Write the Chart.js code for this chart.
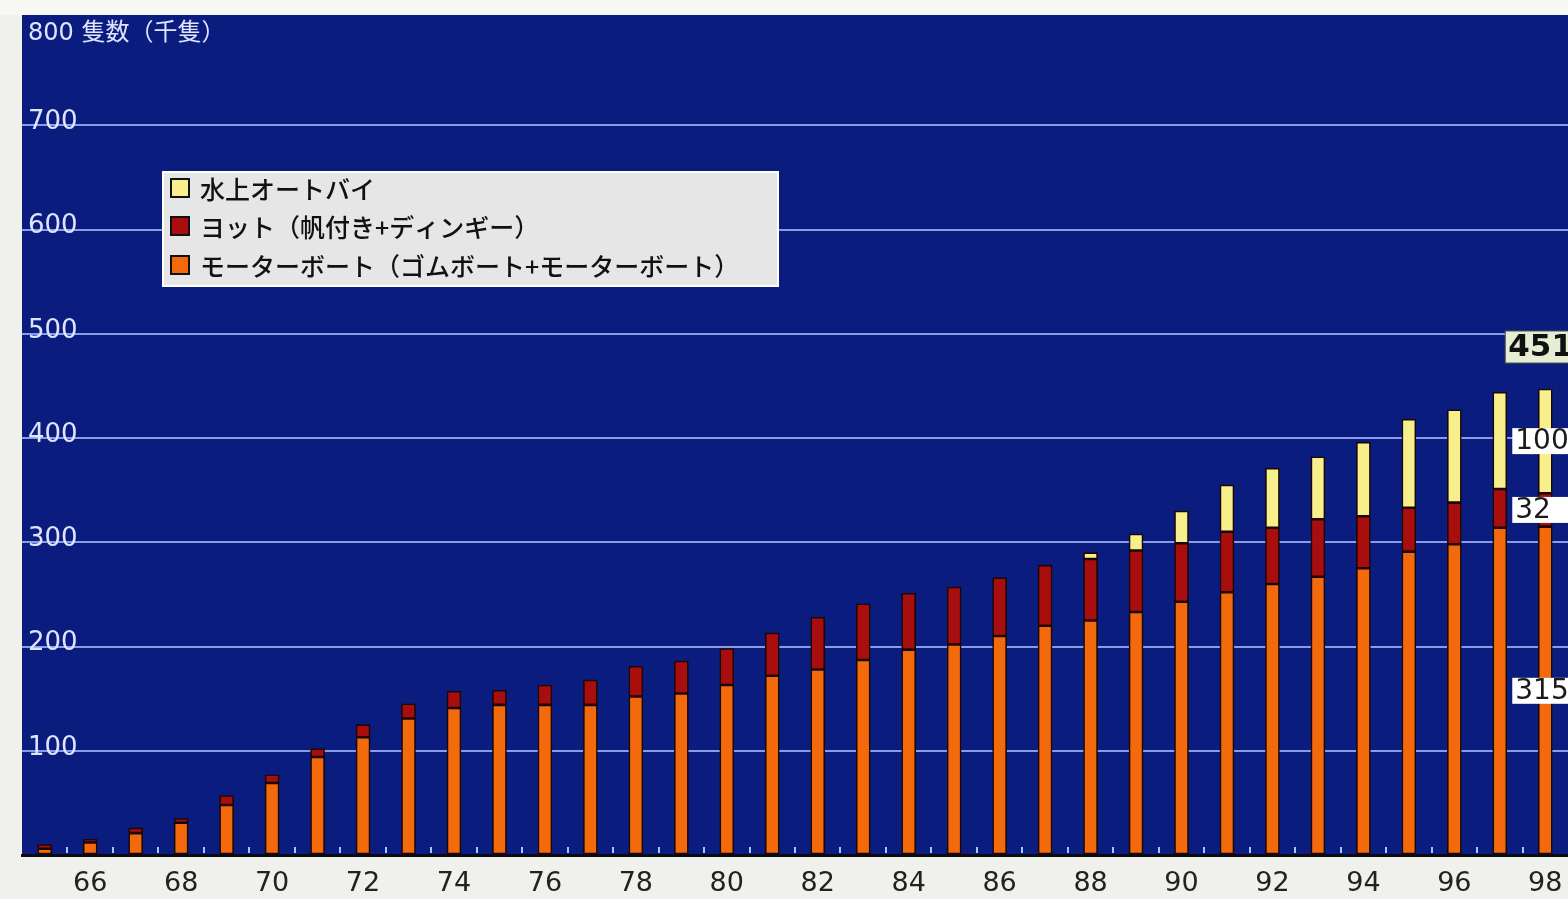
<!DOCTYPE html>
<html>
<head>
<meta charset="utf-8">
<script src="https://cdn.jsdelivr.net/npm/chart.js@4/dist/chart.umd.min.js"></script>
<style>
html,body{margin:0;padding:0;background:#f0f0ec;overflow:hidden;}
#wrap{width:1568px;height:899px;position:relative;}
canvas{display:block;}
</style>
</head>
<body>
<div id="wrap"><canvas id="c" width="1568" height="899"></canvas></div>
<script>
// ---- data (thousand boats) ----
const years = ['65','66','67','68','69','70','71','72','73','74','75','76','77','78','79','80','81','82','83','84','85','86','87','88','89','90','91','92','93','94','95','96','97','98'];
const motorboat = [6,12,21,31,48,69,94,113,131,141,144,144,144,152,155,163,172,178,187,197,202,210,220,225,233,243,252,260,267,275,291,298,314,315];
const yacht = [4,3,5,4,9,8,8,12,14,16,14,19,24,29,31,35,41,50,54,54,55,56,58,59,59,56,58,54,55,50,42,40,37,32];
const jetski = [null,null,null,null,null,null,null,null,null,null,null,null,null,null,null,null,null,null,null,null,null,null,null,6,16,31,45,57,60,71,85,89,93,100];
const seriesNames = ['水上オートバイ','ヨット（帆付き+ディンギー）','モーターボート（ゴムボート+モーターボート）'];
const yTicks = [100,200,300,400,500,600,700];
const yAxisTitle = '800 隻数（千隻）';
const lastYearLabels = ['315','32','100'];
const lastYearTotalLabel = '451';

const NAVY = '#0b1c7f';
const COLORS = { motor:'#f26a0c', yacht:'#a80e0e', jet:'#f6ef8c' };

const bgPlugin = {
  id:'bg',
  beforeDraw(chart){
    const {ctx, chartArea:a} = chart;
    ctx.save();
    ctx.fillStyle = '#f0f0ec';
    ctx.fillRect(0,0,chart.width,chart.height);
    ctx.fillStyle = '#f7f7f4';
    ctx.fillRect(0,0,chart.width,a.top-6);
    ctx.fillStyle = NAVY;
    ctx.fillRect(a.left, a.top-6, chart.width-a.left, a.bottom-a.top+6);
    ctx.restore();
  }
};

const overlayPlugin = {
  id:'overlay',
  afterDraw(chart){
    const {ctx, chartArea:a, scales} = chart;
    const xs = scales.x, ys = scales.y;
    ctx.save();
    // small inward ticks at category boundaries
    const cw = (a.right-a.left)/years.length;
    ctx.strokeStyle = '#b4bef2';
    ctx.lineWidth = 2;
    for(let i=1;i<years.length;i++){
      const x = Math.round(xs.getPixelForValue(i) - cw/2);
      ctx.beginPath(); ctx.moveTo(x, a.bottom-2); ctx.lineTo(x, a.bottom-8); ctx.stroke();
    }
    // axis title at top
    ctx.fillStyle = '#dfe4ff';
    ctx.font = '24px "DejaVu Sans", "Noto Sans CJK JP"';
    ctx.textBaseline = 'middle';
    ctx.textAlign = 'left';
    ctx.fillText(yAxisTitle, a.left+6, a.top+13);

    // legend
    const lx = 163, ly = 172, lw = 615, lh = 114;
    ctx.fillStyle = '#e6e6e6';
    ctx.fillRect(lx, ly, lw, lh);
    ctx.strokeStyle = '#ffffff';
    ctx.lineWidth = 2;
    ctx.strokeRect(lx, ly, lw, lh);
    const legendColors = [COLORS.jet, COLORS.yacht, COLORS.motor];
    const rowY = [188, 226, 265];
    ctx.font = '500 25px "Noto Sans CJK JP"';
    for(let i=0;i<3;i++){
      ctx.fillStyle = legendColors[i];
      ctx.fillRect(171, rowY[i]-9, 18, 18);
      ctx.strokeStyle = '#111';
      ctx.lineWidth = 2;
      ctx.strokeRect(171, rowY[i]-9, 18, 18);
      ctx.fillStyle = '#111';
      ctx.fillText(seriesNames[i], 200, rowY[i]+1);
    }

    // labels for the last year
    const li = years.length-1;
    const cx = xs.getPixelForValue(li);
    const segs = [[0, motorboat[li]], [motorboat[li], motorboat[li]+yacht[li]], [motorboat[li]+yacht[li], motorboat[li]+yacht[li]+jetski[li]]];
    ctx.font = '28px "DejaVu Sans"';
    for(let i=0;i<3;i++){
      const y = ys.getPixelForValue((segs[i][0]+segs[i][1])/2);
      ctx.fillStyle = '#ffffff';
      ctx.fillRect(cx-33, y-13, 60, 26);
      ctx.fillStyle = '#1a1a1a';
      ctx.fillText(lastYearLabels[i], cx-30, y+1);
    }
    const topY = ys.getPixelForValue(segs[2][1]) - 42;
    ctx.fillStyle = '#e5edd3';
    ctx.fillRect(cx-40, topY-16, 70, 32);
    ctx.strokeStyle = '#555';
    ctx.lineWidth = 1;
    ctx.strokeRect(cx-40, topY-16, 70, 32);
    ctx.fillStyle = '#111';
    ctx.font = 'bold 31px "DejaVu Sans"';
    ctx.fillText(lastYearTotalLabel, cx-37, topY+1);
    ctx.restore();
  }
};

const barCommon = { barThickness:14, borderWidth:1.6, borderColor:'#1c0603', borderSkipped:false };

new Chart(document.getElementById('c'), {
  type:'bar',
  data:{
    labels: years,
    datasets:[
      Object.assign({ label: seriesNames[2], data: motorboat, backgroundColor: COLORS.motor }, barCommon),
      Object.assign({ label: seriesNames[1], data: yacht, backgroundColor: COLORS.yacht }, barCommon),
      Object.assign({ label: seriesNames[0], data: jetski, backgroundColor: COLORS.jet }, barCommon)
    ]
  },
  options:{
    responsive:false,
    animation:false,
    layout:{ padding:{ left:22, top:21, right:0, bottom:0 } },
    plugins:{ legend:{display:false}, tooltip:{enabled:false} },
    scales:{
      x:{
        stacked:true,
        grid:{ display:false, drawTicks:false },
        border:{ display:true, color:'#0a0a14', width:3 },
        ticks:{
          autoSkip:false, maxRotation:0, padding:13,
          color:'#222', font:{ family:'DejaVu Sans', size:27 },
          callback:(v,i)=> (i%2===1 ? years[i] : '')
        },
        afterFit:(s)=>{ s.height = 44; s.paddingLeft = 0; s.paddingRight = 0; }
      },
      y:{
        stacked:true,
        min:0, max:800,
        afterBuildTicks:(s)=>{ s.ticks = [0].concat(yTicks, [800]).map(v=>({value:v})); },
        grid:{
          drawTicks:false,
          color:(c)=> (c.tick && (c.tick.value===0 || c.tick.value===800)) ? 'rgba(0,0,0,0)' : '#8a9be8',
          lineWidth:2
        },
        border:{ display:false },
        ticks:{
          mirror:true, padding:6, labelOffset:-3,
          color:'#dfe4ff', font:{ family:'DejaVu Sans', size:26 },
          callback:(v)=> (yTicks.includes(v) ? String(v) : '')
        },
        afterFit:(s)=>{ s.width = 0; s.paddingTop = 0; s.paddingBottom = 0; }
      }
    }
  },
  plugins:[bgPlugin, overlayPlugin]
});
</script>
</body>
</html>
